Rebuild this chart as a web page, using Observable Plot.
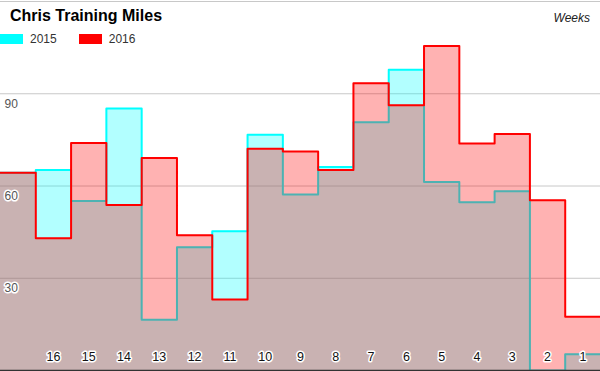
<!DOCTYPE html>
<html>
<head>
<meta charset="utf-8">
<script src="https://cdn.jsdelivr.net/npm/d3@7"></script>
<script src="https://cdn.jsdelivr.net/npm/@observablehq/plot@0.6"></script>
<style>
  html, body { margin: 0; padding: 0; background: #fff; }
  #wrap { position: relative; width: 600px; height: 371px; font-family: "Liberation Sans", Arial, sans-serif; overflow: hidden; }
  #title { position: absolute; left: 10px; top: 7px; font-size: 16px; font-weight: bold; color: #000; }
  #weeks { position: absolute; right: 10px; top: 11px; font-size: 12px; font-style: italic; color: #222; }
  #legend { position: absolute; left: 0; top: 32px; display: flex; align-items: center; font-size: 12px; color: #333; }
  .item { display: flex; align-items: center; margin-right: 22px; }
  .sw { width: 23px; height: 10px; margin-right: 7px; }
  svg { display: block; }
</style>
</head>
<body>
<div id="wrap"></div>
<script>
const title = "Chris Training Miles";
const axisTitle = "Weeks";
const weeks = [17, 16, 15, 14, 13, 12, 11, 10, 9, 8, 7, 6, 5, 4, 3, 2, 1];
const seriesNames = ["2015", "2016"];
const seriesColors = ["#00ffff", "#ff0000"];
const miles2015 = [64.3, 65.2, 55.1, 85.2, 16.5, 40.1, 45.3, 76.7, 57.2, 66.2, 80.7, 97.8, 61.3, 54.7, 58.3, 0, 5.3];
const miles2016 = [64.3, 43.0, 74.0, 53.8, 69.1, 44.0, 23.1, 72.1, 71.2, 65.2, 93.4, 86.3, 105.5, 73.8, 76.9, 55.4, 17.5];
const xTickLabels = ["16", "15", "14", "13", "12", "11", "10", "9", "8", "7", "6", "5", "4", "3", "2", "1"];
const yTicks = [30, 60, 90];
const gridLines = [30, 60, 90, 120];

// step rows: each week holds its value from its left edge; tail repeats last value to the right edge
function stepRows(vals) {
  const rows = weeks.map((w, i) => ({edge: w + 0.5, v: vals[i]}));
  rows.push({edge: weeks[weeks.length - 1] - 0.5, v: vals[vals.length - 1]});
  return rows;
}
const rows2015 = stepRows(miles2015);
const rows2016 = stepRows(miles2016);

const chart = Plot.plot({
  width: 600,
  height: 371,
  marginTop: 1,
  marginBottom: 1,
  marginLeft: 0,
  marginRight: 0,
  style: {fontFamily: "Liberation Sans, Arial, sans-serif", background: "white"},
  x: {domain: [d3.max(weeks) + 0.5, d3.min(weeks) - 0.5], axis: null},
  y: {domain: [0, 120], axis: null},
  marks: [
    Plot.ruleY(gridLines, {stroke: "#c8c8c8", strokeWidth: 1}),
    Plot.areaY(rows2015, {x: "edge", y: "v", curve: "step-after", fill: seriesColors[0], fillOpacity: 0.3}),
    Plot.lineY(rows2015, {x: "edge", y: "v", curve: "step-after", stroke: seriesColors[0], strokeWidth: 2}),
    Plot.areaY(rows2016, {x: "edge", y: "v", curve: "step-after", fill: seriesColors[1], fillOpacity: 0.3}),
    Plot.lineY(rows2016, {x: "edge", y: "v", curve: "step-after", stroke: seriesColors[1], strokeWidth: 2}),
    Plot.ruleY([0], {stroke: "#333", strokeWidth: 1.5}),
    Plot.text(xTickLabels, {x: d => +d, text: d => d, frameAnchor: "bottom", dy: -10, fontSize: 12.5, fill: "#111", stroke: "white", strokeWidth: 3}),
    Plot.text(yTicks, {y: d => d, text: d => String(d), frameAnchor: "left", textAnchor: "start", dx: 4, dy: 10, fontSize: 12, fill: "#555", stroke: "white", strokeWidth: 3})
  ]
});

const wrap = document.getElementById("wrap");
wrap.appendChild(chart);

const t = document.createElement("div"); t.id = "title"; t.textContent = title; wrap.appendChild(t);
const wk = document.createElement("div"); wk.id = "weeks"; wk.textContent = axisTitle; wrap.appendChild(wk);
const lg = document.createElement("div"); lg.id = "legend";
seriesNames.forEach((n, i) => {
  const it = document.createElement("div"); it.className = "item";
  const sw = document.createElement("div"); sw.className = "sw"; sw.style.background = seriesColors[i];
  const lb = document.createElement("span"); lb.textContent = n;
  it.appendChild(sw); it.appendChild(lb); lg.appendChild(it);
});
wrap.appendChild(lg);
</script>
</body>
</html>
